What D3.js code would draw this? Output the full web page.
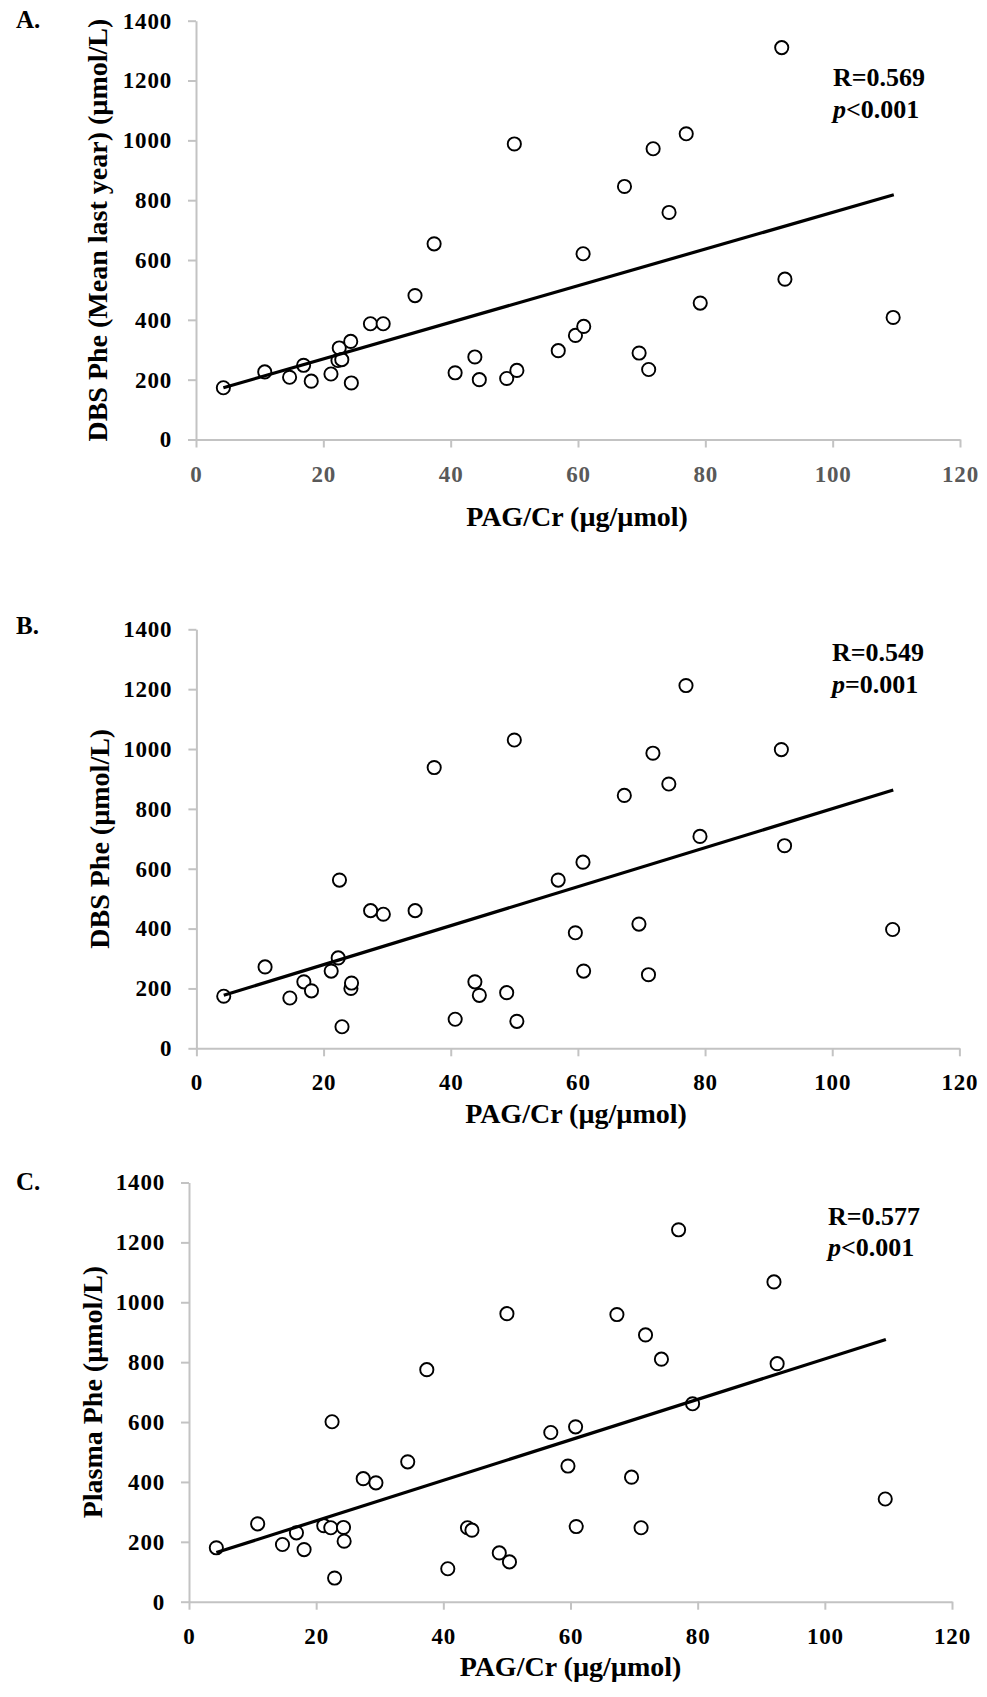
<!DOCTYPE html>
<html>
<head>
<meta charset="utf-8">
<script src="https://cdn.jsdelivr.net/npm/d3@7"></script>
<style>
  body { margin: 0; background: #fff; }
  svg { display: block; font-family: "Liberation Serif", "Times New Roman", serif; font-weight: bold; }
  .axis path, .axis line { stroke: #c3c3c3; stroke-width: 2; }
  .axis text { font-family: "Liberation Serif", serif; font-weight: bold; font-size: 23px; letter-spacing: 0.8px; fill: #000; }
  .axis.gray text { fill: #595959; }
</style>
</head>
<body>
<div id="chart"></div>
<script>
// PAG/Cr (µg/µmol) for each patient, same order in every panel
const pagCr = [4.3, 10.8, 14.7, 16.9, 18.1, 21.2, 22.3, 22.5, 22.9, 24.3, 24.4, 27.4, 29.4, 34.4, 37.4,
  40.7, 43.8, 44.5, 48.8, 50.0, 50.4, 56.9, 59.6, 60.8, 60.9, 67.3, 69.6, 71.1, 71.8, 74.3, 77.0, 79.2,
  92.0, 92.5, 109.5];

const dbsMeanLastYear = [173, 226, 208, 248, 195, 219, 264, 306, 267, 328, 189, 387, 387, 481, 654,
  223, 276, 200, 204, 988, 231, 297, 348, 621, 378, 846, 289, 234, 972, 759, 1022, 456,
  1310, 536, 408];

const dbsPhe = [174, 272, 168, 222, 192, 258, 302, 562, 72, 200, 218, 460, 448, 460, 938,
  97, 222, 177, 186, 1030, 90, 562, 386, 622, 258, 845, 415, 246, 986, 883, 1212, 708,
  998, 677, 397];

const plasmaPhe = [180, 260, 191, 230, 174, 254, 247, 601, 79, 248, 202, 411, 397, 467, 775,
  110, 247, 239, 163, 962, 133, 565, 453, 584, 251, 959, 416, 247, 891, 810, 1242, 661,
  1068, 795, 343];

// regression line ends
const trendX = [4.3, 109.6];
const trendDbsMean = [173, 818];
const trendDbs = [177, 863];
const trendPlasma = [164, 876];

const xTicks = [0, 20, 40, 60, 80, 100, 120];
const yTicks = [0, 200, 400, 600, 800, 1000, 1200, 1400];

const panelLetters = ["A.", "B.", "C."];
const yTitles = ["DBS Phe (Mean last year) (µmol/L)", "DBS Phe (µmol/L)", "Plasma Phe (µmol/L)"];
const rLabels = ["R=0.569", "R=0.549", "R=0.577"];
const pLabels = ["<0.001", "=0.001", "<0.001"];

const W = 987, H = 1697;

const svg = d3.select("#chart").append("svg")
  .attr("width", W)
  .attr("height", H);

// layout for each panel
const panels = [
  { y: dbsMeanLastYear, trend: trendDbsMean, x0: 196, x1: 960, top: 20.7, bottom: 439.5,
    letterY: 28, titleX: 107, xTitleX: 577, xTitleY: 526, statX: 833, rY: 86, pY: 118, grayX: true },
  { y: dbsPhe, trend: trendDbs, x0: 196.4, x1: 959.4, top: 629.3, bottom: 1048.3,
    letterY: 634, titleX: 109, xTitleX: 576, xTitleY: 1123, statX: 832, rY: 661, pY: 693, grayX: false },
  { y: plasmaPhe, trend: trendPlasma, x0: 189, x1: 952, top: 1182.5, bottom: 1601.7,
    letterY: 1190, titleX: 102, xTitleX: 570.5, xTitleY: 1676, statX: 828, rY: 1225, pY: 1256, grayX: false }
];

panels.forEach((p, k) => {
  const x = d3.scaleLinear().domain([0, 120]).range([p.x0, p.x1]);
  const y = d3.scaleLinear().domain([0, 1400]).range([p.bottom, p.top]);

  const g = svg.append("g");

  g.append("text")
    .attr("x", 16)
    .attr("y", p.letterY)
    .attr("font-size", 25)
    .text(panelLetters[k]);

  g.append("g")
    .attr("class", "axis")
    .attr("transform", `translate(${p.x0},0)`)
    .call(d3.axisLeft(y).tickValues(yTicks).tickSize(8).tickSizeOuter(0).tickPadding(16).tickFormat(d3.format("d")));

  const xa = g.append("g")
    .attr("class", "axis" + (p.grayX ? " gray" : ""))
    .attr("transform", `translate(0,${p.bottom})`)
    .call(d3.axisBottom(x).tickValues(xTicks).tickSize(8).tickSizeOuter(0).tickFormat(d3.format("d")));
  xa.selectAll("text").attr("y", 42).attr("dy", 0);

  // y title
  g.append("text")
    .attr("transform", `translate(${p.titleX},${(p.top + p.bottom) / 2}) rotate(-90)`)
    .attr("text-anchor", "middle")
    .attr("font-size", 28)
    .text(yTitles[k]);

  // x title
  g.append("text")
    .attr("x", p.xTitleX)
    .attr("y", p.xTitleY)
    .attr("text-anchor", "middle")
    .attr("font-size", 28)
    .text("PAG/Cr (µg/µmol)");

  // points
  g.append("g").selectAll("circle")
    .data(pagCr.map((v, i) => [v, p.y[i]]))
    .enter()
    .append("circle")
    .attr("cx", d => x(d[0]))
    .attr("cy", d => y(d[1]))
    .attr("r", 6.6)
    .attr("fill", "#fff")
    .attr("stroke", "#000")
    .attr("stroke-width", 1.9);

  // trend line
  g.append("path")
    .datum(trendX.map((v, i) => [v, p.trend[i]]))
    .attr("d", d3.line().x(d => x(d[0])).y(d => y(d[1])))
    .attr("stroke", "#000")
    .attr("stroke-width", 3.2)
    .attr("fill", "none");

  // stats
  g.append("text")
    .attr("x", p.statX)
    .attr("y", p.rY)
    .attr("font-size", 26)
    .text(rLabels[k]);

  const pt = g.append("text")
    .attr("x", p.statX)
    .attr("y", p.pY)
    .attr("font-size", 26);
  pt.append("tspan").attr("font-style", "italic").text("p");
  pt.append("tspan").text(pLabels[k]);
});
</script>
</body>
</html>
